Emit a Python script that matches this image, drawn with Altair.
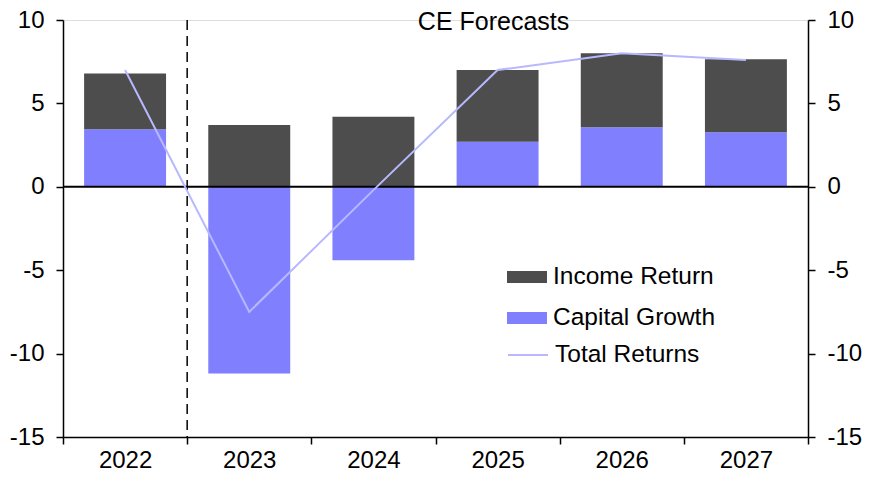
import altair as alt
import pandas as pd

years = ["2022", "2023", "2024", "2025", "2026", "2027"]
income = [3.35, 3.7, 4.2, 4.3, 4.43, 4.38]
capital = [3.45, -11.2, -4.4, 2.7, 3.57, 3.27]
total = [7.0, -7.5, -0.2, 7.0, 8.0, 7.6]
series_names = ["Income Return", "Capital Growth"]
line_name = "Total Returns"
forecast_start = "2023"
annotation = "CE Forecasts"

FONT = "Liberation Sans"
FS = 24

rows = []
for y, inc, cap in zip(years, income, capital):
    rows.append({"year": y, "series": "Capital Growth", "value": cap, "ord": 0})
    rows.append({"year": y, "series": "Income Return", "value": inc, "ord": 1})
bars_df = pd.DataFrame(rows)
line_df = pd.DataFrame({"year": years, "total": total, "series": [line_name] * len(years)})

ys = alt.Scale(domain=[-15, 10], nice=False, zero=False)
xs = alt.Scale(domain=years, paddingInner=0, paddingOuter=0)

x_axis = alt.Axis(
    title=None, labelFont=FONT, labelFontSize=FS, labelColor="black", labelAngle=0,
    tickBand="extent", tickSize=7, tickColor="black", tickWidth=1.5,
    domainColor="black", domainWidth=1.5, labelPadding=4,
)

def y_axis(orient):
    return alt.Axis(
        title=None, orient=orient, values=[-15, -10, -5, 0, 5, 10],
        labelExpr="'' + datum.value",
        labelFont=FONT, labelFontSize=FS, labelColor="black",
        tickSize=7, tickColor="black", tickWidth=1.5,
        domainColor="black", domainWidth=1.5, labelPadding=12, grid=False,
    )

bars = alt.Chart(bars_df).mark_bar(width=alt.RelativeBandSize(0.66)).encode(
    x=alt.X("year:N", scale=xs, axis=x_axis),
    y=alt.Y("value:Q", scale=ys, axis=y_axis("left"), stack="zero"),
    fill=alt.Fill(
        "series:N",
        scale=alt.Scale(domain=series_names, range=["#4d4d4d", "#8080ff"]),
        legend=alt.Legend(
            title=None, orient="none", legendX=444, legendY=237,
            symbolType="M-1,-0.3H1V0.3H-1Z", symbolSize=1600,
            symbolStrokeWidth=0, labelFont=FONT, labelFontSize=24.5,
            labelColor="black", labelOffset=6, rowPadding=9, padding=0,
            labelLimit=400,
        ),
    ),
    order=alt.Order("ord:Q"),
)

zero = alt.Chart(pd.DataFrame({"z": [0]})).mark_rule(color="black", strokeWidth=2).encode(
    y=alt.Y("z:Q", scale=ys, axis=None)
)

dash = alt.Chart(pd.DataFrame({"year": [forecast_start]})).mark_rule(
    color="black", strokeWidth=1.5, strokeDash=[10, 6]
).encode(x=alt.X("year:N", scale=xs, bandPosition=0))

line = alt.Chart(line_df).mark_line(strokeWidth=2).encode(
    x=alt.X("year:N", scale=xs),
    y=alt.Y("total:Q", scale=ys, axis=y_axis("right")),
    stroke=alt.Stroke(
        "series:N",
        scale=alt.Scale(domain=[line_name], range=["#b8b8ff"]),
        legend=alt.Legend(
            title=None, orient="none", legendX=444, legendY=314,
            symbolType="stroke", symbolSize=1600, symbolStrokeWidth=2,
            labelFont=FONT, labelFontSize=24.5, labelColor="black",
            labelOffset=6, padding=0, labelLimit=400,
        ),
    ),
)

text = alt.Chart(pd.DataFrame({"year": ["2025"], "v": [10], "t": [annotation]})).mark_text(
    font=FONT, fontSize=25, color="black", baseline="middle", align="center", dx=-4, dy=2
).encode(
    x=alt.X("year:N", scale=xs),
    y=alt.Y("v:Q", scale=ys, axis=None),
    text="t:N",
)

chart = alt.layer(bars, zero, dash, line, text).resolve_scale(
    y="independent", fill="independent", stroke="independent"
).properties(
    width=745, height=417,
    autosize=alt.AutoSizeParams(type="none"),
    padding={"left": 55, "top": 12, "right": 56, "bottom": 35},
).configure_view(stroke=None).configure(background="white")

chart.save("out.html", embed_options={"renderer": "svg", "actions": False})
